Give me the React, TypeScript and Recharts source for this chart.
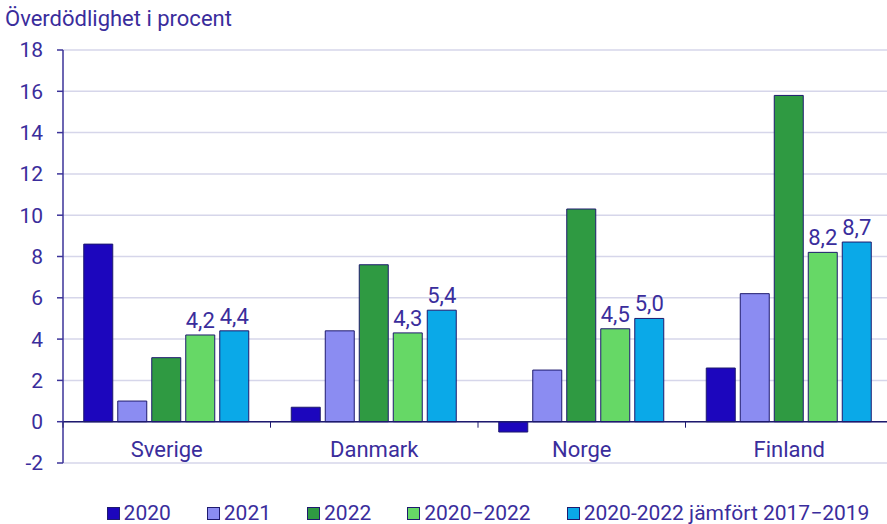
import React from 'react';
import {
  BarChart,
  Bar,
  XAxis,
  YAxis,
  CartesianGrid,
  ReferenceLine,
  LabelList,
} from 'recharts';

const countries = ['Sverige', 'Danmark', 'Norge', 'Finland'];
const y2020 = [8.6, 0.7, -0.5, 2.6];
const y2021 = [1.0, 4.4, 2.5, 6.2];
const y2022 = [3.1, 7.6, 10.3, 15.8];
const y2020to2022 = [4.2, 4.3, 4.5, 8.2];
const vs2017to2019 = [4.4, 5.4, 5.0, 8.7];
const yTicks = [-2, 0, 2, 4, 6, 8, 10, 12, 14, 16, 18];

const series = [
  { key: 'a', name: '2020', color: '#1c06bd', label: false },
  { key: 'b', name: '2021', color: '#8b8cf2', label: false },
  { key: 'c', name: '2022', color: '#2f9a42', label: false },
  { key: 'd', name: '2020\u22122022', color: '#66d866', label: true },
  { key: 'e', name: '2020-2022 jämfört 2017\u22122019', color: '#0aa9e8', label: true },
];

const data = countries.map((name, i) => ({
  name,
  a: y2020[i],
  b: y2021[i],
  c: y2022[i],
  d: y2020to2022[i],
  e: vs2017to2019[i],
}));

const TEXT = '#3a2d9c';
const FONT = 'Roboto, "Noto Sans", sans-serif';
const TOP = 50;
const PLOT_BOTTOM = 463;
const zeroY = TOP + ((18 - 0) / 20) * (PLOT_BOTTOM - TOP);

const fmt = (v: any) => Number(v).toFixed(1).replace('.', ',');

const CategoryTick = (props: any) => {
  const { x, payload } = props;
  const half = payload && payload.offset ? payload.offset : 103.75;
  return (
    <g>
      <line x1={x - half} x2={x - half} y1={zeroY} y2={zeroY + 6} stroke="#1e1a6e" strokeWidth={1} />
      <text x={x} y={zeroY + 35} textAnchor="middle" fill={TEXT} fontSize={22} fontFamily={FONT}>
        {payload.value}
      </text>
    </g>
  );
};

export default function App() {
  return (
    <div style={{ position: 'fixed', left: 0, top: 0, width: 887, height: 524, overflow: 'hidden', background: '#fff', fontFamily: FONT }}>
      <div style={{ position: 'absolute', left: 5, top: 6, fontSize: 22, color: TEXT, whiteSpace: 'nowrap' }}>
        Överdödlighet i procent
      </div>
      <div style={{ position: 'absolute', left: 0, top: 0 }}>
        <BarChart
          width={900}
          height={524}
          data={data}
          margin={{ top: TOP, right: 7, left: 8, bottom: 21 }}
          barCategoryGap="10%"
          barGap={5}
        >
          <CartesianGrid vertical={false} stroke="#d6d6ea" strokeWidth={1.5} />
          <XAxis
            dataKey="name"
            axisLine={false}
            tickLine={false}
            height={40}
            tick={<CategoryTick />}
            interval={0}
          />
          <YAxis
            domain={[-2, 18]}
            ticks={yTicks}
            interval={0}
            width={55}
            axisLine={{ stroke: '#3b3399', strokeWidth: 1.5 }}
            tickLine={{ stroke: '#3b3399', strokeWidth: 1.5 }}
            tickSize={6}
            tickMargin={14}
            tick={{ fill: TEXT, fontSize: 21, fontFamily: FONT }}
          />
          {series.map((s) => (
            <Bar
              key={s.key}
              dataKey={s.key}
              name={s.name}
              fill={s.color}
              stroke="#1e1a6e"
              strokeWidth={1}
              isAnimationActive={false}
            >
              {s.label && (
                <LabelList
                  dataKey={s.key}
                  position="top"
                  offset={7}
                  formatter={fmt}
                  fill={TEXT}
                  fontSize={22}
                  fontFamily={FONT}
                />
              )}
            </Bar>
          ))}
          <ReferenceLine y={0} stroke="#1e1a6e" strokeWidth={1.5} />
        </BarChart>
      </div>
      <div
        style={{
          position: 'absolute',
          left: 0,
          width: 976,
          top: 500,
          display: 'flex',
          justifyContent: 'center',
          gap: 36,
          fontSize: 21,
          lineHeight: '26px',
          color: TEXT,
          whiteSpace: 'nowrap',
        }}
      >
        {series.map((s) => (
          <div key={s.key} style={{ display: 'flex', alignItems: 'center' }}>
            <span
              style={{
                display: 'inline-block',
                width: 11,
                height: 11,
                background: s.color,
                border: '1px solid #1e1a6e',
                marginRight: 4,
              }}
            />
            <span>{s.name}</span>
          </div>
        ))}
      </div>
    </div>
  );
}
